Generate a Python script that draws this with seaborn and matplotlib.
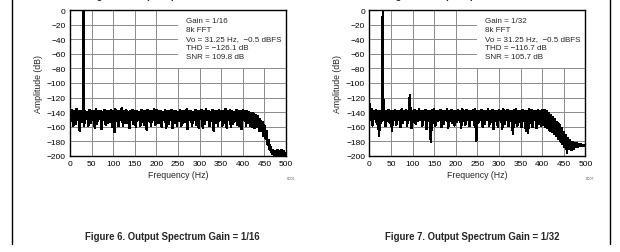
import numpy as np
import matplotlib
matplotlib.use("Agg")
import matplotlib.pyplot as plt
import seaborn as sns
from matplotlib.lines import Line2D
from matplotlib.patches import Rectangle

# ---------------- data ----------------
freq_ticks = [0, 50, 100, 150, 200, 250, 300, 350, 400, 450, 500]
amp_ticks = [0, -20, -40, -60, -80, -100, -120, -140, -160, -180, -200]

fund_freq = 31.25          # Hz
fund_db = -0.5             # dBFS

# Gain = 1/16 : upper values of the noise band (bins at 0, 5, ... 495 Hz)
g16_top = [-138, -137, -139, -136, -138, -139, -137, -138, -140, -137,
           -139, -138, -136, -139, -138, -140, -137, -139, -138, -137,
           -139, -136, -138, -139, -134, -139, -137, -140, -138, -137,
           -139, -138, -140, -137, -139, -138, -137, -139, -138, -136,
           -137, -139, -138, -140, -137, -139, -138, -137, -139, -138,
           -140, -137, -139, -138, -136, -139, -138, -140, -137, -139,
           -138, -137, -139, -136, -138, -140, -137, -139, -138, -137,
           -139, -138, -136, -139, -137, -138, -140, -137, -139, -138,
           -137, -139, -138, -140, -141, -142, -144, -146, -149, -153,
           -158, -166, -178, -188, -192, -193, -192, -193, -192, -193]
# Gain = 1/16 : lower values of the noise band (bins at 2.5, 7.5, ... Hz)
g16_low = [-152, -158, -156, -150, -165, -153, -159, -149, -158, -155,
           -150, -161, -156, -149, -163, -151, -157, -154, -153, -160,
           -167, -152, -159, -150, -158, -155, -154, -162, -151, -156,
           -160, -149, -159, -153, -157, -164, -152, -158, -150, -157,
           -155, -154, -160, -150, -162, -156, -151, -162, -155, -158,
           -152, -158, -154, -153, -163, -151, -159, -150, -157, -161,
           -149, -161, -156, -150, -159, -152, -165, -154, -158, -150,
           -158, -155, -161, -150, -160, -156, -152, -157, -159, -163,
           -150, -158, -155, -158, -160, -162, -160, -165, -166, -172,
           -176, -184, -192, -197, -199, -198, -199, -198, -199, -198]

# Gain = 1/32
g32_top = [-128, -136, -138, -137, -139, -138, -137, -139, -138, -137,
           -139, -138, -137, -139, -138, -136, -139, -137, -138, -137,
           -139, -137, -138, -136, -139, -138, -137, -139, -138, -137,
           -136, -139, -138, -137, -139, -138, -136, -138, -137, -139,
           -138, -137, -139, -136, -138, -137, -139, -138, -137, -136,
           -139, -138, -137, -139, -138, -136, -138, -137, -139, -138,
           -137, -139, -136, -138, -137, -139, -138, -137, -136, -139,
           -138, -137, -139, -138, -136, -137, -139, -138, -137, -138,
           -137, -137, -138, -141, -144, -147, -150, -153, -157, -162,
           -168, -172, -176, -179, -181, -182, -183, -184, -184, -185]
g32_low = [-150, -158, -149, -156, -172, -154, -150, -159, -152, -155,
           -165, -151, -157, -150, -160, -154, -150, -158, -151, -162,
           -153, -156, -152, -151, -158, -150, -163, -152, -181, -155,
           -159, -152, -150, -160, -156, -151, -162, -152, -155, -158,
           -153, -150, -161, -152, -157, -150, -159, -151, -157, -179,
           -154, -150, -160, -156, -151, -158, -153, -163, -152, -160,
           -151, -163, -156, -150, -159, -152, -170, -154, -158, -153,
           -160, -152, -165, -168, -155, -160, -151, -162, -156, -158,
           -157, -160, -162, -165, -167, -170, -172, -176, -180, -184,
           -188, -195, -190, -192, -190, -188, -187, -186, -186, -186]
g32_harm_freq = 93.75
g32_harm_db = -117

panels = [
    dict(top=g16_top, low=g16_low, extra_f=[fund_freq], extra_db=[fund_db],
         info="Gain = 1/16\n8k FFT\nVo = 31.25 Hz,  \u22120.5 dBFS\nTHD = \u2212126.1 dB\nSNR = 109.8 dB",
         caption="Figure 6. Output Spectrum Gain = 1/16",
         topcap="Figure 4. Output Spectrum Gain = 1/4", code="C006"),
    dict(top=g32_top, low=g32_low, extra_f=[fund_freq, g32_harm_freq],
         extra_db=[fund_db, g32_harm_db],
         info="Gain = 1/32\n8k FFT\nVo = 31.25 Hz,  \u22120.5 dBFS\nTHD = \u2212116.7 dB\nSNR = 105.7 dB",
         caption="Figure 7. Output Spectrum Gain = 1/32",
         topcap="Figure 5. Output Spectrum Gain = 1/8", code="C007"),
]

# ---------------- style ----------------
sns.set_theme(style="white")
plt.rcParams['font.family'] = ['Liberation Sans', 'DejaVu Sans']

W, H = 620, 253
fig = plt.figure(figsize=(W / 100, H / 100), dpi=100)

ax_left_px = [70, 369.3]
caption_cx = [172.7, 472.0]
ax_w_px = 216
ax_top_px, ax_bot_px = 11, 157

for i, p in enumerate(panels):
    x0 = ax_left_px[i]
    ax = fig.add_axes([x0 / W, 1 - ax_bot_px / H, ax_w_px / W, (ax_bot_px - ax_top_px) / H])

    n = len(p["top"])
    f_top = np.arange(n) * 5.0
    f_low = f_top + 2.5
    f = np.concatenate([f_top, f_low, np.array(p["extra_f"], float)])
    a = np.concatenate([np.array(p["top"], float), np.array(p["low"], float),
                        np.array(p["extra_db"], float)])
    order = np.argsort(f)
    f, a = f[order], a[order]

    sns.lineplot(x=f, y=a, ax=ax, color="black", linewidth=1.1,
                 estimator=None, sort=False, zorder=3, antialiased=False)

    ax.set_xlim(0, 500)
    ax.set_ylim(-200, 0)
    ax.set_xticks(freq_ticks)
    ax.set_yticks(amp_ticks)
    ax.set_xticklabels([str(t) for t in freq_ticks])
    ax.set_yticklabels([str(t).replace('-', '\u2212') for t in amp_ticks])
    ax.grid(True, color="#8a8a8a", linewidth=0.7)
    ax.set_axisbelow(True)
    ax.tick_params(axis="both", length=0, labelsize=6, pad=3, colors="black")
    for s in ax.spines.values():
        s.set_color("black")
        s.set_linewidth(1.0)
    ax.set_xlabel("Frequency (Hz)", fontsize=6.3, labelpad=2)
    ax.set_ylabel("Amplitude (dB)", fontsize=6.3, labelpad=3)

    # white box behind the info text
    ax.add_patch(Rectangle((0.5, 0.6), 0.5, 0.4, transform=ax.transAxes,
                           facecolor="white", edgecolor="none", zorder=1))
    ax.text(0.536, 0.955, p["info"], transform=ax.transAxes, fontsize=5.8,
            va="top", ha="left", linespacing=1.42, zorder=4)

    cx = caption_cx[i] / W
    fig.text(cx, 1 - 236.7 / H, p["caption"], ha="center", va="center",
             fontsize=6.9, fontweight="bold")
    fig.text(cx, 1 + 0.6 / H, p["topcap"], ha="center", va="baseline",
             fontsize=6.9, fontweight="bold")
    fig.text((x0 + ax_w_px + 5) / W, 1 - 179 / H, p["code"], ha="center",
             va="center", fontsize=2.5, color="#555577")

# page frame lines
fig.add_artist(Line2D([12 / W, 12 / W], [1, 1 - 245 / H], color="black", linewidth=1.0))
fig.add_artist(Line2D([610 / W, 610 / W], [1, 1 - 245 / H], color="black", linewidth=1.0))

fig.savefig("out.png", dpi=100)
